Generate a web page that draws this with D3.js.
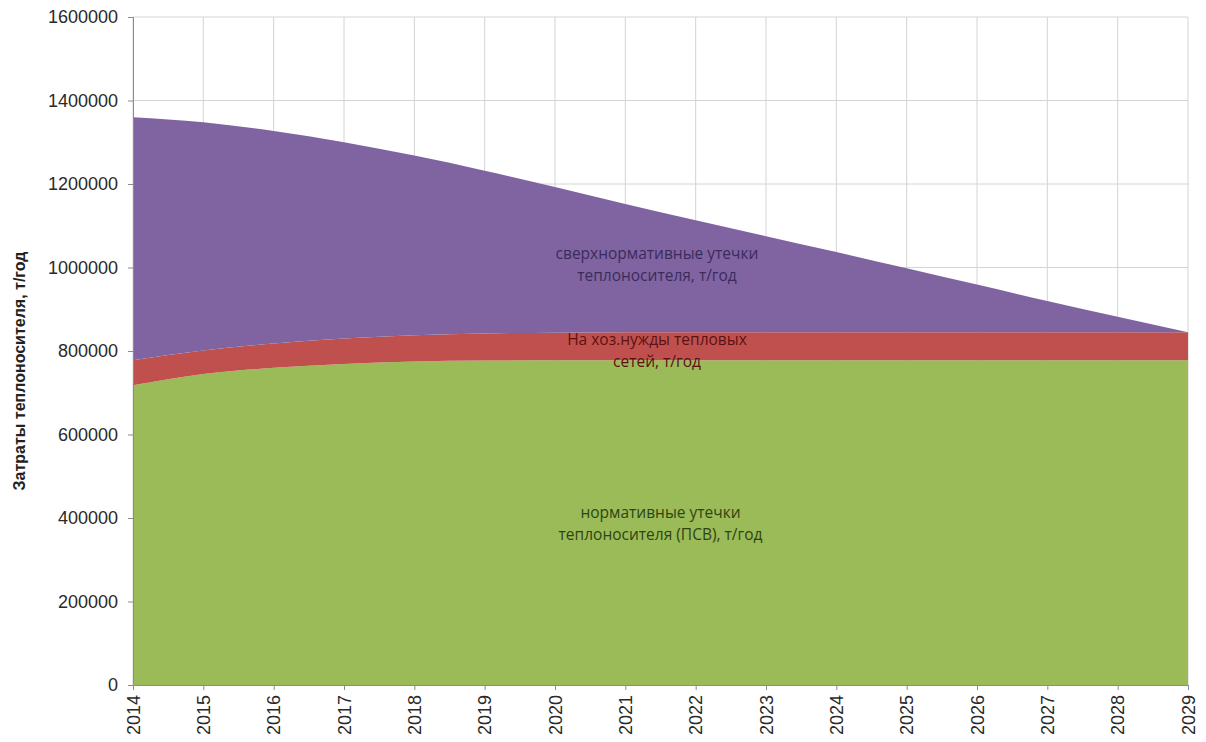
<!DOCTYPE html>
<html>
<head>
<meta charset="utf-8">
<script src="https://cdn.jsdelivr.net/npm/d3@7"></script>
<style>
    body { margin: 0; background: #fff; }
    svg { display: block; font-family: "Liberation Sans", Arial, sans-serif; }
</style>
</head>
<body>
<div id="container"></div>
<script>

const years = [2014, 2015, 2016, 2017, 2018, 2019, 2020, 2021, 2022, 2023, 2024, 2025, 2026, 2027, 2028, 2029];

// нормативные утечки теплоносителя (ПСВ), т/год
const normLeaks = [718000, 745000, 760000, 769000, 775000, 777000, 778000, 778000, 778000, 778000, 778000, 778000, 778000, 778000, 778000, 778000];
// На хоз.нужды тепловых сетей, т/год
const ownNeeds = [60000, 56000, 58000, 61000, 63000, 65000, 66000, 67000, 67000, 67000, 67000, 67000, 67000, 67000, 67000, 67000];
// сверхнормативные утечки теплоносителя, т/год
const overLeaks = [582000, 547000, 509000, 470000, 430000, 390000, 349000, 307000, 268000, 230000, 192000, 153000, 114000, 75000, 37000, 0];

const yTicks = [0, 200000, 400000, 600000, 800000, 1000000, 1200000, 1400000, 1600000];

const seriesNames = ['norm', 'own', 'over'];
const colors = { norm: '#9bbb59', own: '#c0504d', over: '#8064a2' };

const labels = [
    { key: 'over', year: 2021.45, value: 1020000, lines: ['сверхнормативные утечки', 'теплоносителя, т/год'], color: '#3b2b5c' },
    { key: 'own', year: 2021.45, value: 815000, lines: ['На хоз.нужды тепловых', 'сетей, т/год'], color: '#5c1212' },
    { key: 'norm', year: 2021.5, value: 400000, lines: ['нормативные утечки', 'теплоносителя (ПСВ), т/год'], color: '#2e4510' }
];

const width = 1206;
const height = 742;
const margin = { top: 17, right: 18, bottom: 57, left: 133 };

const table = years.map((y, i) => ({ year: y, norm: normLeaks[i], own: ownNeeds[i], over: overLeaks[i] }));

const x = d3.scaleLinear()
    .domain([years[0], years[years.length - 1]])
    .range([margin.left, width - margin.right]);

const y = d3.scaleLinear()
    .domain([0, 1600000])
    .range([height - margin.bottom, margin.top]);

const svg = d3.select('#container')
    .append('svg')
    .attr('width', width)
    .attr('height', height)
    .attr('viewBox', [0, 0, width, height]);

// grid
svg.append('g')
    .selectAll('line')
    .data(yTicks)
    .join('line')
    .attr('x1', margin.left)
    .attr('x2', width - margin.right)
    .attr('y1', d => y(d))
    .attr('y2', d => y(d))
    .attr('stroke', '#d4d4d4');

svg.append('g')
    .selectAll('line')
    .data(years)
    .join('line')
    .attr('x1', d => x(d))
    .attr('x2', d => x(d))
    .attr('y1', y(0))
    .attr('y2', y(1600000))
    .attr('stroke', '#d4d4d4');

// stacked areas
const stack = d3.stack().keys(seriesNames);
const layers = stack(table);

const area = d3.area()
    .x(d => x(d.data.year))
    .y0(d => y(d[0]))
    .y1(d => y(d[1]))
    .curve(d3.curveMonotoneX);

svg.append('g')
    .selectAll('path')
    .data(layers)
    .join('path')
    .attr('fill', d => colors[d.key])
    .attr('d', area);

// axes
const yAxis = svg.append('g')
    .attr('transform', `translate(${margin.left},0)`)
    .call(d3.axisLeft(y).tickValues(yTicks).tickSize(5).tickPadding(10).tickFormat(d3.format('d')));

const xAxis = svg.append('g')
    .attr('transform', `translate(0,${y(0)})`)
    .call(d3.axisBottom(x).tickValues(years).tickSize(5).tickFormat(d3.format('d')));

[yAxis, xAxis].forEach(ax => {
    ax.select('.domain').attr('stroke', '#8c8c8c');
    ax.selectAll('.tick line').attr('stroke', '#8c8c8c');
    ax.selectAll('text')
        .attr('fill', '#2a2a2a')
        .style('font-size', '18px');
});

xAxis.selectAll('text')
    .attr('transform', 'rotate(-90)')
    .attr('text-anchor', 'end')
    .attr('dy', '0.35em')
    .attr('x', -10)
    .attr('y', 0);

// y axis title
svg.append('text')
    .attr('transform', `translate(25,${(y(0) + y(1600000)) / 2 + 20}) rotate(-90)`)
    .attr('text-anchor', 'middle')
    .style('font-size', '16px')
    .style('font-weight', 'bold')
    .attr('fill', '#222')
    .text('Затраты теплоносителя, т/год');

// in-chart series labels
const lbl = svg.append('g')
    .selectAll('text')
    .data(labels)
    .join('text')
    .attr('x', d => x(d.year))
    .attr('y', d => y(d.value))
    .attr('text-anchor', 'middle')
    .attr('fill', d => d.color)
    .style('font-family', '"Open Sans", "Noto Sans", sans-serif')
    .style('font-size', '15.5px');

lbl.selectAll('tspan')
    .data(d => d.lines)
    .join('tspan')
    .attr('x', function () { return d3.select(this.parentNode).attr('x'); })
    .attr('dy', (d, i) => i === 0 ? 0 : 22)
    .text(d => d);

</script>
</body>
</html>
